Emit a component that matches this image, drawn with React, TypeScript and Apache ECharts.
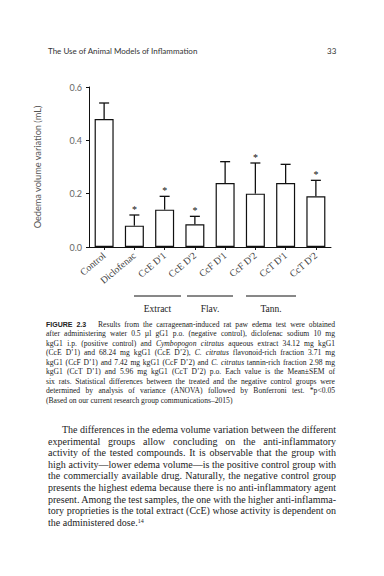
import React, { useEffect, useRef } from "react";
import * as echarts from "echarts";

const categories = ["Control", "Diclofenac", "CcE D'1", "CcE D'2", "CcF D'1", "CcF D'2", "CcT D'1", "CcT D'2"];
const means = [0.48, 0.08, 0.14, 0.085, 0.24, 0.2, 0.24, 0.19];
const uppers = [0.54, 0.12, 0.19, 0.115, 0.32, 0.315, 0.31, 0.25];
const significant = [false, true, true, true, false, true, false, true];
const yTicks = [0, 0.2, 0.4, 0.6];
const groups = [
  { label: "Extract", x1: 134, x2: 181 },
  { label: "Flav.", x1: 187, x2: 233 },
  { label: "Tann.", x1: 246, x2: 296 },
];

const captionLines: React.ReactNode[] = [
  <>
    <b style={{ fontFamily: "Liberation Sans", fontSize: 7 }}>FIGURE 2.3</b>&nbsp;&nbsp; Results from the carrageenan-induced rat paw edema test were obtained
  </>,
  <>after administering water 0.5 µl gG1 p.o. (negative control), diclofenac sodium 10 mg</>,
  <>
    kgG1 i.p. (positive control) and <i>Cymbopogon citratus</i> aqueous extract 34.12 mg kgG1
  </>,
  <>
    (CcE D’1) and 68.24 mg kgG1 (CcE D’2), <i>C. citratus</i> flavonoid-rich fraction 3.71 mg
  </>,
  <>
    kgG1 (CcF D’1) and 7.42 mg kgG1 (CcF D’2) and <i>C. citratus</i> tannin-rich fraction 2.98 mg
  </>,
  <>kgG1 (CcT D’1) and 5.96 mg kgG1 (CcT D’2) p.o. Each value is the Mean±SEM of</>,
  <>six rats. Statistical differences between the treated and the negative control groups were</>,
  <>determined by analysis of variance (ANOVA) followed by Bonferroni test. *p&lt;0.05</>,
  <>(Based on our current research group communications–2015)</>,
];

const bodyLines: React.ReactNode[] = [
  <>The differences in the edema volume variation between the different</>,
  <>experimental groups allow concluding on the anti-inflammatory</>,
  <>activity of the tested compounds. It is observable that the group with</>,
  <>high activity—lower edema volume—is the positive control group with</>,
  <>the commercially available drug. Naturally, the negative control group</>,
  <>presents the highest edema because there is no anti-inflammatory agent</>,
  <>present. Among the test samples, the one with the higher anti-inflamma-</>,
  <>tory proprieties is the total extract (CcE) whose activity is dependent on</>,
  <>
    the administered dose.<sup style={{ fontSize: 6, verticalAlign: "top", lineHeight: "8px" }}>14</sup>
  </>,
];

function Chart() {
  const ref = useRef<HTMLDivElement>(null);
  useEffect(() => {
    if (!ref.current) return;
    const chart = echarts.init(ref.current, undefined, { renderer: "svg" });
    const option: any = {
      animation: false,
      grid: { left: 89, top: 87, width: 242, height: 160 },
      xAxis: {
        type: "category",
        data: categories,
        axisLine: { show: true, lineStyle: { color: "#111", width: 1 } },
        axisTick: { show: true, alignWithLabel: true, length: 3, lineStyle: { color: "#111" } },
        axisLabel: {
          interval: 0,
          rotate: 40,
          margin: 7,
          fontSize: 9.8,
          fontFamily: "Liberation Serif",
          color: "#444",
        },
      },
      yAxis: {
        type: "value",
        min: 0,
        max: 0.6,
        interval: 0.2,
        name: "Oedema volume variation (mL)",
        nameLocation: "middle",
        nameRotate: 90,
        nameGap: 47,
        nameTextStyle: { fontSize: 9.2, fontFamily: "Lato", color: "#555" },
        axisLine: { show: true, lineStyle: { color: "#111", width: 1 } },
        axisTick: { show: true, length: 3, lineStyle: { color: "#111" } },
        splitLine: { show: false },
        axisLabel: {
          margin: 7,
          fontSize: 9,
          fontFamily: "Lato",
          color: "#666",
          formatter: (v: number) => (yTicks.includes(Math.round(v * 10) / 10) ? v.toFixed(1) : ""),
        },
      },
      series: [
        {
          type: "bar",
          data: means,
          barWidth: 19,
          itemStyle: { color: "#fff", borderColor: "#111", borderWidth: 1.2 },
          z: 2,
        },
        {
          type: "custom",
          z: 3,
          data: categories.map((_, i) => [i, means[i], uppers[i]]),
          renderItem: (params: any, api: any) => {
            const x = api.value(0);
            const p0 = api.coord([x, api.value(1)]);
            const p1 = api.coord([x, api.value(2)]);
            const st = { stroke: "#111", lineWidth: 1.3 };
            return {
              type: "group",
              children: [
                { type: "line", shape: { x1: p0[0], y1: p0[1], x2: p1[0], y2: p1[1] }, style: st },
                { type: "line", shape: { x1: p1[0] - 5, y1: p1[1], x2: p1[0] + 5, y2: p1[1] }, style: st },
              ],
            };
          },
        },
        {
          type: "custom",
          z: 4,
          data: categories
            .map((_, i) => [i, uppers[i]])
            .filter((_, i) => significant[i]),
          renderItem: (params: any, api: any) => {
            const p = api.coord([api.value(0), api.value(1)]);
            return {
              type: "text",
              x: p[0],
              y: p[1] - 6,
              style: {
                text: "*",
                fontSize: 10,
                fontFamily: "Liberation Serif",
                fill: "#111",
                align: "center",
                verticalAlign: "middle",
              },
            };
          },
        },
      ],
      graphic: groups.flatMap((g) => [
        {
          type: "line",
          shape: { x1: g.x1, y1: 296, x2: g.x2, y2: 296 },
          style: { stroke: "#111", lineWidth: 1 },
        },
        {
          type: "text",
          x: (g.x1 + g.x2) / 2,
          y: 309,
          style: {
            text: g.label,
            fontSize: 9.5,
            fontFamily: "Liberation Serif",
            fill: "#222",
            align: "center",
            verticalAlign: "middle",
          },
        },
      ]),
    };
    chart.setOption(option);
    return () => chart.dispose();
  }, []);
  return <div ref={ref} style={{ position: "absolute", left: 0, top: 0, width: 384, height: 330 }} />;
}

export default function App() {
  const lineStyle = (last: boolean, ws: number): React.CSSProperties => ({
    textAlign: last ? "left" : "justify",
    textAlignLast: last ? "left" : "justify",
    whiteSpace: "normal",
    wordSpacing: last ? 0 : ws,
  });
  return (
    <div
      style={{
        position: "fixed",
        left: 0,
        top: 0,
        width: 384,
        height: 576,
        background: "#fff",
        overflow: "hidden",
        color: "#222",
      }}
    >
      <div
        style={{
          position: "absolute",
          left: 48,
          top: 46,
          fontFamily: "Lato",
          fontSize: 8,
          lineHeight: "11px",
          color: "#333",
        }}
      >
        The Use of Animal Models of Inflammation
      </div>
      <div
        style={{
          position: "absolute",
          left: 327,
          top: 46,
          fontFamily: "Lato",
          fontSize: 8,
          lineHeight: "11px",
          color: "#333",
        }}
      >
        33
      </div>
      <Chart />
      <div
        style={{
          position: "absolute",
          left: 46,
          top: 320,
          width: 289,
          fontFamily: "Liberation Serif",
          fontSize: 7.6,
          lineHeight: "9.45px",
        }}
      >
        {captionLines.map((l, i) => (
          <div key={i} style={lineStyle(i === captionLines.length - 1, -1)}>
            {l}
          </div>
        ))}
      </div>
      <div
        style={{
          position: "absolute",
          left: 48,
          top: 424,
          width: 288,
          fontFamily: "Liberation Serif",
          fontSize: 10,
          lineHeight: "11.6px",
        }}
      >
        {bodyLines.map((l, i) => (
          <div
            key={i}
            style={{
              ...lineStyle(i === bodyLines.length - 1, -1.5),
              textIndent: i === 0 ? 14 : 0,
            }}
          >
            {l}
          </div>
        ))}
      </div>
    </div>
  );
}
